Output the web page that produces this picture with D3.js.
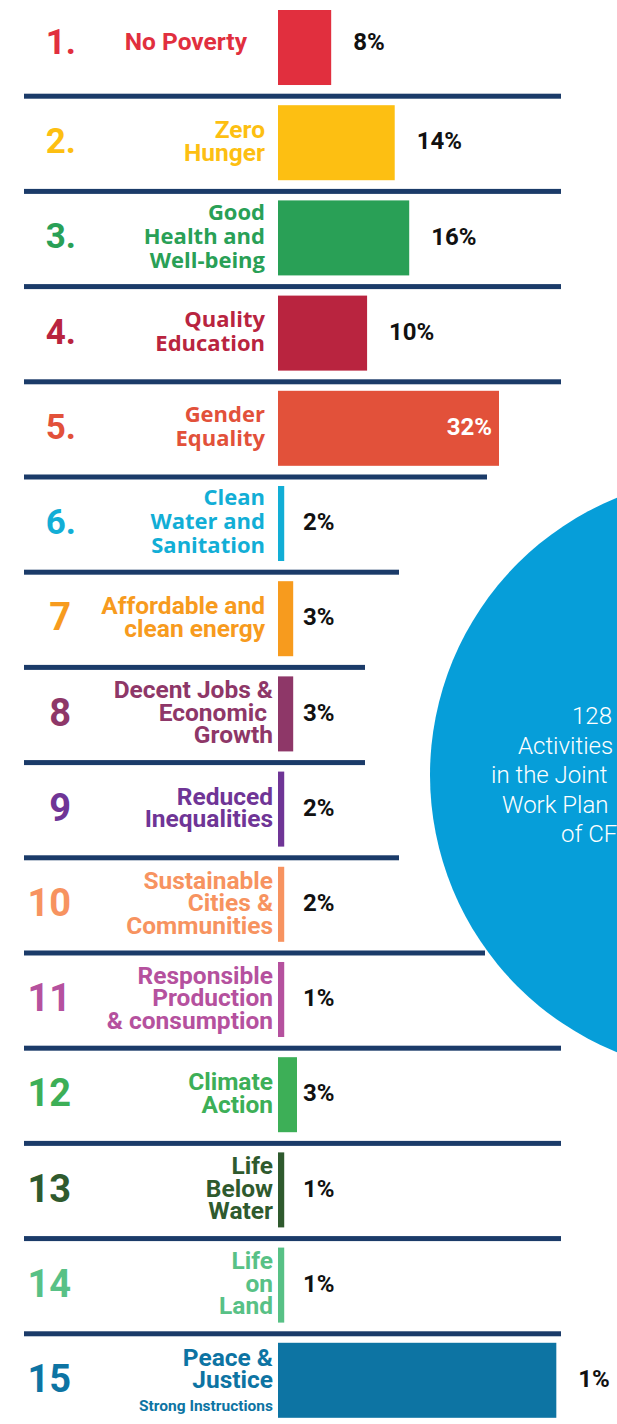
<!DOCTYPE html>
<html>
<head>
<meta charset="utf-8">
<script src="https://cdn.jsdelivr.net/npm/d3@7"></script>
<style>
  html, body { margin: 0; padding: 0; background: #fff; }
  svg { display: block; }
</style>
</head>
<body>
<div id="chart"></div>
<script>
// goal numbers, names and shares as printed
var goalNums = ["1.", "2.", "3.", "4.", "5.", "6.", "7", "8", "9", "10", "11", "12", "13", "14", "15"];
var goalNames = [
  ["No Poverty"],
  ["Zero", "Hunger"],
  ["Good", "Health and", "Well-being"],
  ["Quality", "Education"],
  ["Gender", "Equality"],
  ["Clean", "Water and", "Sanitation"],
  ["Affordable and", "clean energy"],
  ["Decent Jobs &", "Economic ", "Growth"],
  ["Reduced", "Inequalities"],
  ["Sustainable", "Cities &", "Communities"],
  ["Responsible", "Production", "& consumption"],
  ["Climate", "Action"],
  ["Life", "Below", "Water"],
  ["Life", "on", "Land"],
  ["Peace &", "Justice"]
];
var goalNotes = ["", "", "", "", "", "", "", "", "", "", "", "", "", "", "Strong Instructions"];
var shares = [8, 14, 16, 10, 32, 2, 3, 3, 2, 2, 1, 3, 1, 1, 1];
// the bars in the source are not drawn to scale, so their lengths are read off separately
var barLen = [7.7, 16.9, 19, 12.9, 32, 0.9, 2.2, 2.2, 0.9, 0.9, 0.9, 2.75, 0.9, 0.9, 40.3];
var circleLines = ["128", "Activities", "in the Joint", "Work Plan", "of CFS"];

// styles
var goalColors = ["#e12f3e", "#fdbf12", "#29a056", "#b9243f", "#e2513a", "#12aed6", "#f79b1e",
  "#8e3768", "#6f3596", "#f79360", "#b5519e", "#3daf57", "#2f5a2e", "#58c186", "#0d74a3"];
var openSansRows = [2, 3, 4, 5];
var labelRight = [247, 265, 265, 265, 265, 265, 265, 273, 273, 273, 273, 273, 273, 273, 273];
var ruleEnd = [561, 561, 561, 561, 487, 399, 365, 365, 399, 485, 561, 561, 561, 561];

var W = 617, H = 1424;
var svg = d3.select("#chart").append("svg")
  .attr("width", W)
  .attr("height", H);

var ids = d3.range(goalNums.length);
var y = d3.scaleBand()
  .domain(ids)
  .range([10, 1417.8])
  .paddingInner(0.212)
  .paddingOuter(0);

var x = d3.scaleLinear()
  .domain([0, 32])
  .range([278, 499]);

// big circle at right
svg.append("circle")
  .attr("cx", 729)
  .attr("cy", 775)
  .attr("r", 299)
  .attr("fill", "#069ed9");

var cx0 = [572, 518, 491, 502, 561];
svg.append("g").selectAll("text")
  .data(circleLines)
  .enter().append("text")
  .attr("x", function (d, i) { return cx0[i]; })
  .attr("y", function (d, i) { return 724 + i * 29.5; })
  .attr("fill", "#fff")
  .style("font-family", "Roboto")
  .style("font-weight", 300)
  .style("font-size", "24px")
  .text(function (d) { return d; });

// separators between rows
svg.append("g").selectAll("rect")
  .data(ids.slice(1))
  .enter().append("rect")
  .attr("x", 24)
  .attr("y", function (d) { return y(d) - 11.5; })
  .attr("width", function (d, i) { return ruleEnd[i] - 24; })
  .attr("height", 5)
  .attr("fill", "#1b3b69");

var row = svg.append("g").selectAll("g")
  .data(ids)
  .enter().append("g")
  .attr("transform", function (d) { return "translate(0," + y(d) + ")"; });

var bh = y.bandwidth();
// single line rows sit a little higher in the source
function mid(d) { return bh / 2 - 2 - (goalNames[d].length == 1 ? 4 : 0); }

row.append("rect")
  .attr("x", x(0))
  .attr("y", 0)
  .attr("width", function (d) { return x(barLen[d]) - x(0); })
  .attr("height", bh)
  .attr("fill", function (d) { return goalColors[d]; });

// goal numbers
row.append("text")
  .attr("x", function (d) { return goalNums[d].indexOf(".") > 0 ? 76 : 71; })
  .attr("y", function (d) { return mid(d); })
  .attr("dy", "0.36em")
  .attr("text-anchor", "end")
  .attr("fill", function (d) { return goalColors[d]; })
  .style("font-family", "Roboto")
  .style("font-weight", 700)
  .style("font-size", function (d) { return goalNums[d].indexOf(".") > 0 ? "35px" : "38px"; })
  .text(function (d) { return goalNums[d]; });

// goal names
row.each(function (d) {
  var g = d3.select(this);
  var lines = goalNames[d];
  var os = openSansRows.indexOf(d) >= 0;
  var fs = os ? 22 : 24.5;
  var lh = os ? 24 : 22.5;
  var cap = fs * 0.72;
  var blockH = cap + (lines.length - 1) * lh;
  var base0 = mid(d) - blockH / 2 + cap;
  if (goalNotes[d]) base0 -= 10;
  var t = g.append("text")
    .attr("text-anchor", "end")
    .attr("fill", goalColors[d])
    .style("white-space", "pre")
    .style("font-family", os ? "'Open Sans'" : "Roboto")
    .style("font-weight", 700)
    .style("font-size", fs + "px");
  lines.forEach(function (s, i) {
    t.append("tspan")
      .attr("x", labelRight[d])
      .attr("y", base0 + i * lh)
      .text(s);
  });
  if (goalNotes[d]) {
    g.append("text")
      .attr("x", labelRight[d])
      .attr("y", base0 + lines.length * lh)
      .attr("text-anchor", "end")
      .attr("fill", goalColors[d])
      .style("font-family", "Roboto")
      .style("font-weight", 700)
      .style("font-size", "15.5px")
      .text(goalNotes[d]);
  }
});

// share labels
row.append("text")
  .attr("x", function (d) {
    var e = x(barLen[d]);
    if (shares[d] >= 30) return e - 7;
    return e - x(0) < 25 ? 303 : e + 22;
  })
  .attr("y", function (d) { return mid(d); })
  .attr("dy", "0.36em")
  .attr("text-anchor", function (d) { return shares[d] >= 30 ? "end" : "start"; })
  .attr("fill", function (d) { return shares[d] >= 30 ? "#fff" : "#111"; })
  .style("font-family", "Roboto")
  .style("font-weight", 700)
  .style("font-size", "24px")
  .text(function (d) { return shares[d] + "%"; });
</script>
</body>
</html>
